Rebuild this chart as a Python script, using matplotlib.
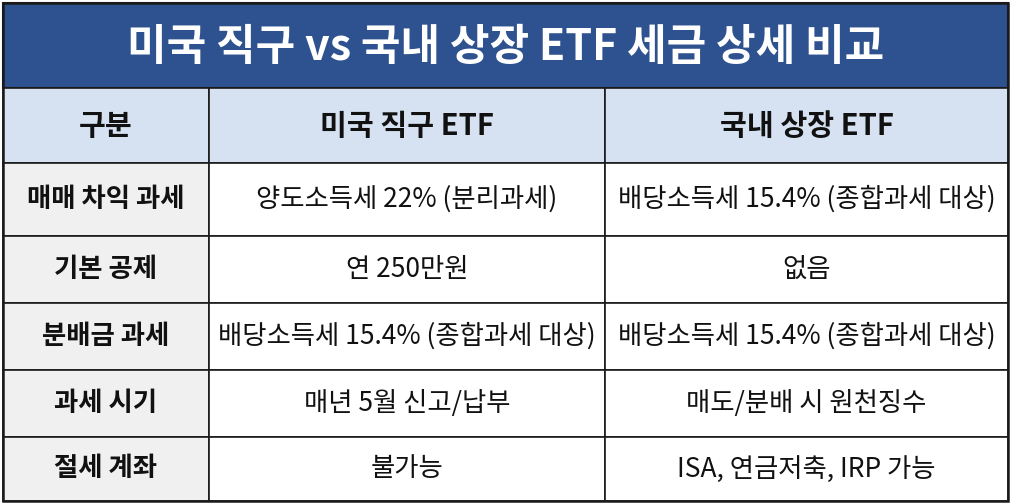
import matplotlib
matplotlib.use("Agg")
import matplotlib.pyplot as plt
from matplotlib.patches import Rectangle

plt.rcParams['font.family'] = ['Noto Sans CJK KR', 'DejaVu Sans']

title = "미국 직구 vs 국내 상장 ETF 세금 상세 비교"
headers = ["구분", "미국 직구 ETF", "국내 상장 ETF"]
categories = ["매매 차익 과세", "기본 공제", "분배금 과세", "과세 시기", "절세 계좌"]
us_etf = ["양도소득세 22% (분리과세)", "연 250만원", "배당소득세 15.4% (종합과세 대상)",
          "매년 5월 신고/납부", "불가능"]
kr_etf = ["배당소득세 15.4% (종합과세 대상)", "없음", "배당소득세 15.4% (종합과세 대상)",
          "매도/분배 시 원천징수", "ISA, 연금저축, IRP 가능"]

W, H = 1012, 504
fig = plt.figure(figsize=(W / 100, H / 100), dpi=100)
ax = fig.add_axes([0, 0, 1, 1])
ax.set_xlim(0, W); ax.set_ylim(H, 0); ax.axis("off")

L, R, T, B = 3, 1008, 3, 501
col_x = [L, 209, 605, R]
row_y = [88, 163, 236, 303, 370, 437, B]
EDGE = "#1a1a1a"

# title band
ax.add_patch(Rectangle((L, T), R - L, row_y[0] - T, fc="#2e528f", ec=EDGE, lw=1.5))
ax.text((L + R) / 2, (T + row_y[0]) / 2 + 1, title, color="white", fontsize=31,
        fontweight="bold", ha="center", va="center")

# header row
for j in range(3):
    ax.add_patch(Rectangle((col_x[j], row_y[0]), col_x[j + 1] - col_x[j], row_y[1] - row_y[0],
                           fc="#d6e2f2", ec=EDGE, lw=1.2))
    ax.text((col_x[j] + col_x[j + 1]) / 2, (row_y[0] + row_y[1]) / 2, headers[j],
            fontsize=21, fontweight="bold", ha="center", va="center", color="#111111")

# body rows
for i, (c, u, k) in enumerate(zip(categories, us_etf, kr_etf)):
    y0, y1 = row_y[i + 1], row_y[i + 2]
    for j, txt in enumerate([c, u, k]):
        ax.add_patch(Rectangle((col_x[j], y0), col_x[j + 1] - col_x[j], y1 - y0,
                               fc="#f0f0f0" if j == 0 else "white", ec=EDGE, lw=1.2))
        ax.text((col_x[j] + col_x[j + 1]) / 2, (y0 + y1) / 2, txt,
                fontsize=19, fontweight="bold" if j == 0 else "medium",
                ha="center", va="center", color="#111111")

ax.add_patch(Rectangle((L, T), R - L, B - T, fc="none", ec=EDGE, lw=1.8))
fig.savefig("out.png", dpi=100)
